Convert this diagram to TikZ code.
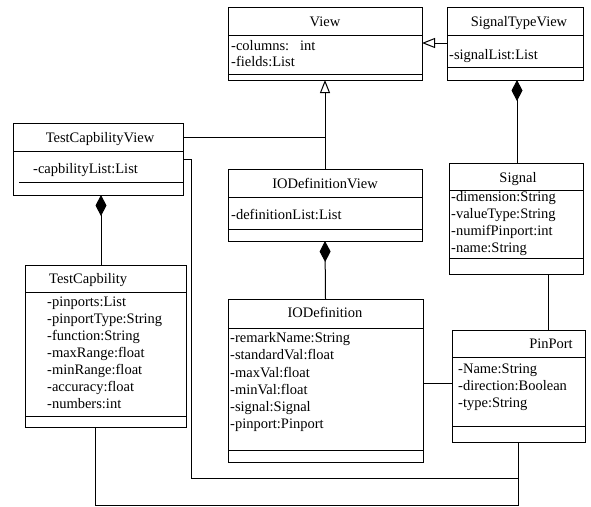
\documentclass[tikz,border=0pt]{standalone}
\usepackage{fontspec}
\setmainfont{Liberation Serif}
\usetikzlibrary{arrows.meta}
\begin{document}
\begin{tikzpicture}[x=1pt,y=-1pt,
  cls/.style={draw, line width=1pt, anchor=north west, inner sep=0pt, outer sep=0pt},
  sep/.style={line width=1pt},
  ttl/.style={font=\fontsize{14.5}{17}\selectfont, inner sep=0pt, anchor=base},
  attr/.style={font=\fontsize{14.5}{17}\selectfont, inner sep=0pt, anchor=base west},
  conn/.style={line width=1pt},
  gen/.style={conn, -{Triangle[open, length=13pt, width=10pt, line width=1pt]}},
  comp/.style={conn, {Diamond[length=21pt, width=11pt]}-}
]
\useasboundingbox (0,0) rectangle (591,506);

% View
\node[cls, minimum width=194pt, minimum height=73pt] (view) at (228,7) {};
\draw[sep] (view.west |- 0,35) -- (view.east |- 0,35);
\draw[sep] (view.west |- 0,74) -- (view.east |- 0,74);
\node[ttl] (viewT) at (325,27) {View};
\node[attr] (viewA1) at (231,50) {-columns:\ \ \ int};
\node[attr] (viewA2) at (231,66) {-fields:List};

% SignalTypeView
\node[cls, minimum width=136pt, minimum height=73pt] (stv) at (447,7) {};
\draw[sep] (stv.west |- 0,35) -- (stv.east |- 0,35);
\draw[sep] (stv.west |- 0,67) -- (stv.east |- 0,67);
\node[ttl] (stvT) at (519,27) {SignalTypeView};
\node[attr] (stvA1) at (449,59) {-signalList:List};

% Signal
\node[cls, minimum width=134pt, minimum height=111pt] (sig) at (449,163) {};
\draw[sep] (sig.west |- 0,190) -- (sig.east |- 0,190);
\draw[sep] (sig.west |- 0,258) -- (sig.east |- 0,258);
\node[ttl] (sigT) at (518,182) {Signal};
\node[attr] (sigA1) at (451,201) {-dimension:String};
\node[attr] (sigA2) at (451,218) {-valueType:String};
\node[attr] (sigA3) at (451,235) {-numifPinport:int};
\node[attr] (sigA4) at (451,252) {-name:String};

% PinPort
\node[cls, minimum width=133pt, minimum height=112pt] (pin) at (452,330) {};
\draw[sep] (pin.west |- 0,357) -- (pin.east |- 0,357);
\draw[sep] (pin.west |- 0,426) -- (pin.east |- 0,426);
\node[ttl] (pinT) at (551,348) {PinPort};
\node[attr] (pinA1) at (458,373) {-Name:String};
\node[attr] (pinA2) at (458,390) {-direction:Boolean};
\node[attr] (pinA3) at (458,407) {-type:String};

% IODefinitionView
\node[cls, minimum width=194pt, minimum height=72pt] (iodv) at (228,169) {};
\draw[sep] (iodv.west |- 0,197) -- (iodv.east |- 0,197);
\draw[sep] (iodv.west |- 0,229) -- (iodv.east |- 0,229);
\node[ttl] (iodvT) at (325,188) {IODefinitionView};
\node[attr] (iodvA1) at (231,219) {-definitionList:List};

% IODefinition
\node[cls, minimum width=195pt, minimum height=163pt] (iod) at (228,299) {};
\draw[sep] (iod.west |- 0,328) -- (iod.east |- 0,328);
\draw[sep] (iod.west |- 0,450) -- (iod.east |- 0,450);
\node[ttl] (iodT) at (325,317) {IODefinition};
\node[attr] (iodA1) at (230,342) {-remarkName:String};
\node[attr] (iodA2) at (230,359.5) {-standardVal:float};
\node[attr] (iodA3) at (230,377) {-maxVal:float};
\node[attr] (iodA4) at (230,394) {-minVal:float};
\node[attr] (iodA5) at (230,411) {-signal:Signal};
\node[attr] (iodA6) at (230,428) {-pinport:Pinport};

% TestCapbilityView
\node[cls, minimum width=170pt, minimum height=72pt] (tcv) at (13,123) {};
\draw[sep] (tcv.west |- 0,151) -- (tcv.east |- 0,151);
\draw[sep] (19,182) -- (tcv.east |- 0,182);
\node[ttl] (tcvT) at (100,142) {TestCapbilityView};
\node[attr] (tcvA1) at (33,173) {-capbilityList:List};

% TestCapbility
\node[cls, minimum width=161pt, minimum height=162pt] (tc) at (25,265) {};
\draw[sep] (tc.west |- 0,292) -- (tc.east |- 0,292);
\draw[sep] (tc.west |- 0,416) -- (tc.east |- 0,416);
\node[attr] (tcT) at (49,283) {TestCapbility};
\node[attr] (tcA1) at (47,306) {-pinports:List};
\node[attr] (tcA2) at (47,323) {-pinportType:String};
\node[attr] (tcA3) at (47,340) {-function:String};
\node[attr] (tcA4) at (47,357) {-maxRange:float};
\node[attr] (tcA5) at (47,374) {-minRange:float};
\node[attr] (tcA6) at (47,391) {-accuracy:float};
\node[attr] (tcA7) at (47,408) {-numbers:int};

% junction / bend coordinates
\coordinate (jView) at (325,137);
\coordinate (b1) at (191,159);
\coordinate (b2) at (191,478);
\coordinate (b3) at (518,478);
\coordinate (b4) at (95,505);
\coordinate (b5) at (518,505);

% connectors
\draw[gen] (stv.west |- 0,43) -- (view.east |- 0,43);
\draw[gen] (iodv.north) -- (view.south);
\draw[conn] (tcv.east |- jView) -- (jView);
\draw[comp] (stv.south -| 517,0) -- (sig.north -| 517,0);
\draw[conn] (sig.south -| 548,0) -- (pin.north -| 548,0);
\draw[comp] (iodv.south) -- (iod.north);
\draw[comp] (tcv.south -| 101,0) -- (tc.north -| 101,0);
\draw[conn] (iod.east |- 0,383) -- (pin.west |- 0,383);
\draw[conn] (tcv.east |- b1) -- (b1) -- (b2) -- (b3);
\draw[conn] (tc.south -| b4) -- (b4) -- (b5) -- (pin.south -| b5);
\end{tikzpicture}
\end{document}
